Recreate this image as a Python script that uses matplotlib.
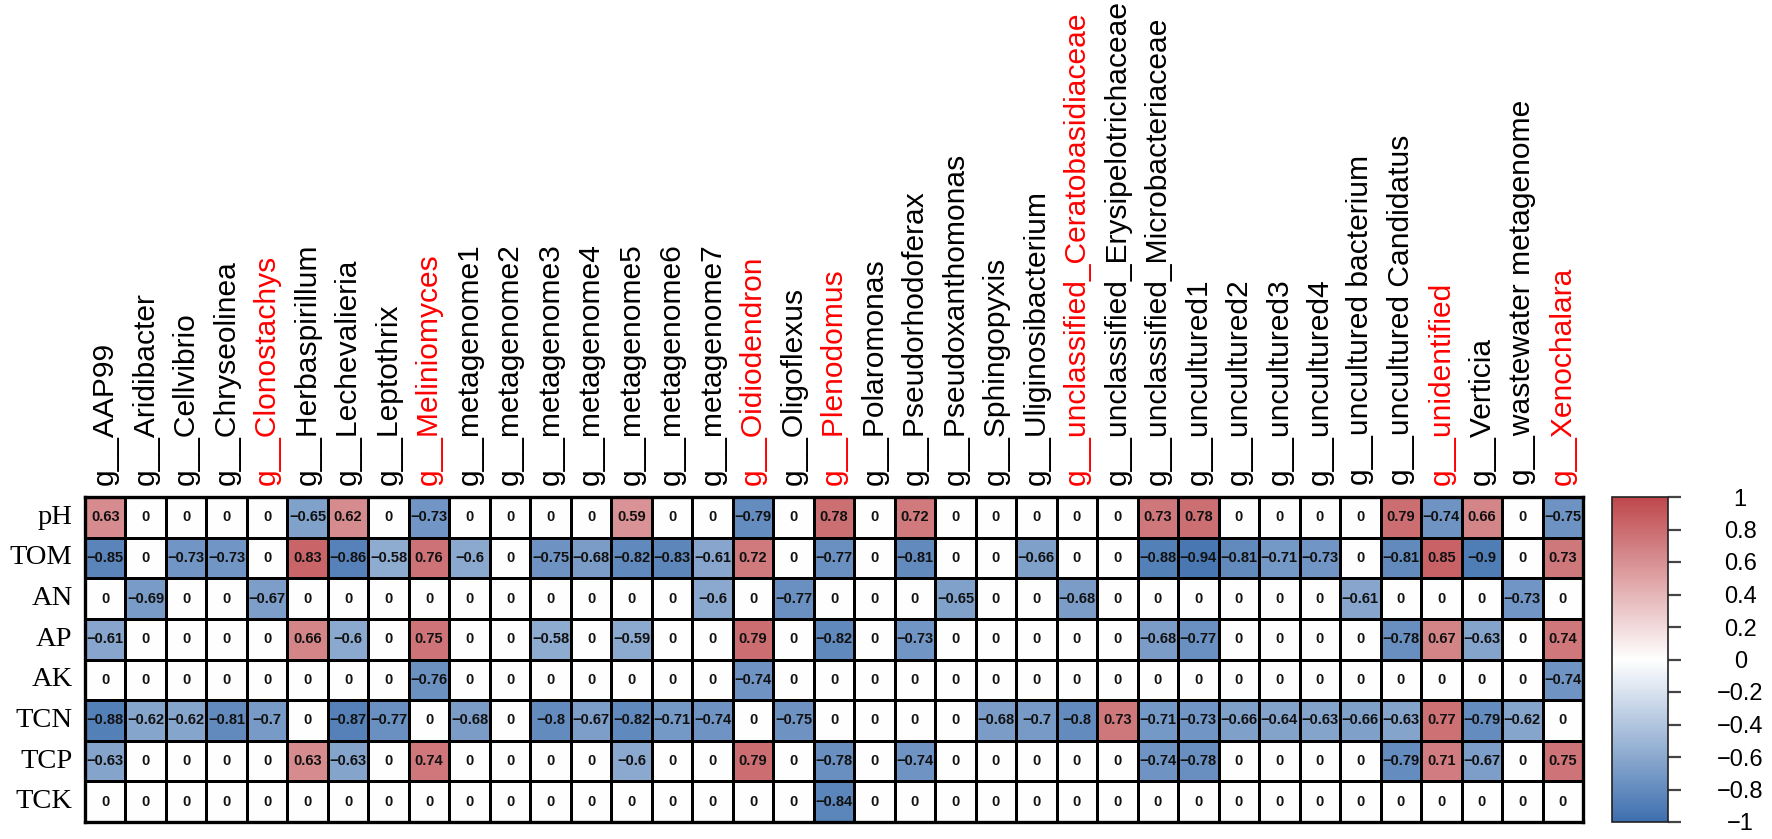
import matplotlib
matplotlib.use("Agg")
import matplotlib.pyplot as plt
import numpy as np
from matplotlib.colors import LinearSegmentedColormap, Normalize
from matplotlib.cm import ScalarMappable

genera = [
    "g__AAP99", "g__Aridibacter", "g__Cellvibrio", "g__Chryseolinea",
    "g__Clonostachys", "g__Herbaspirillum", "g__Lechevalieria", "g__Leptothrix",
    "g__Meliniomyces", "g__metagenome1", "g__metagenome2", "g__metagenome3",
    "g__metagenome4", "g__metagenome5", "g__metagenome6", "g__metagenome7",
    "g__Oidiodendron", "g__Oligoflexus", "g__Plenodomus", "g__Polaromonas",
    "g__Pseudorhodoferax", "g__Pseudoxanthomonas", "g__Sphingopyxis",
    "g__Uliginosibacterium", "g__unclassified_Ceratobasidiaceae",
    "g__unclassified_Erysipelotrichaceae", "g__unclassified_Microbacteriaceae",
    "g__uncultured1", "g__uncultured2", "g__uncultured3", "g__uncultured4",
    "g__uncultured bacterium", "g__uncultured Candidatus", "g__unidentified",
    "g__Verticia", "g__wastewater metagenome", "g__Xenochalara",
]
# fungal genera highlighted in red
red_genera = {"g__Clonostachys", "g__Meliniomyces", "g__Oidiodendron",
              "g__Plenodomus", "g__unclassified_Ceratobasidiaceae",
              "g__unidentified", "g__Xenochalara"}

factors = ["pH", "TOM", "AN", "AP", "AK", "TCN", "TCP", "TCK"]

r_pH = [0.63, 0, 0, 0, 0, -0.65, 0.62, 0, -0.73, 0, 0, 0, 0, 0.59, 0, 0,
        -0.79, 0, 0.78, 0, 0.72, 0, 0, 0, 0, 0, 0.73, 0.78, 0, 0, 0, 0,
        0.79, -0.74, 0.66, 0, -0.75]
r_TOM = [-0.85, 0, -0.73, -0.73, 0, 0.83, -0.86, -0.58, 0.76, -0.6, 0, -0.75,
         -0.68, -0.82, -0.83, -0.61, 0.72, 0, -0.77, 0, -0.81, 0, 0, -0.66,
         0, 0, -0.88, -0.94, -0.81, -0.71, -0.73, 0, -0.81, 0.85, -0.9, 0, 0.73]
r_AN = [0, -0.69, 0, 0, -0.67, 0, 0, 0, 0, 0, 0, 0, 0, 0, 0, -0.6,
        0, -0.77, 0, 0, 0, -0.65, 0, 0, -0.68, 0, 0, 0, 0, 0, 0, -0.61,
        0, 0, 0, -0.73, 0]
r_AP = [-0.61, 0, 0, 0, 0, 0.66, -0.6, 0, 0.75, 0, 0, -0.58, 0, -0.59, 0, 0,
        0.79, 0, -0.82, 0, -0.73, 0, 0, 0, 0, 0, -0.68, -0.77, 0, 0, 0, 0,
        -0.78, 0.67, -0.63, 0, 0.74]
r_AK = [0, 0, 0, 0, 0, 0, 0, 0, -0.76, 0, 0, 0, 0, 0, 0, 0,
        -0.74, 0, 0, 0, 0, 0, 0, 0, 0, 0, 0, 0, 0, 0, 0, 0,
        0, 0, 0, 0, -0.74]
r_TCN = [-0.88, -0.62, -0.62, -0.81, -0.7, 0, -0.87, -0.77, 0, -0.68, 0, -0.8,
         -0.67, -0.82, -0.71, -0.74, 0, -0.75, 0, 0, 0, 0, -0.68, -0.7, -0.8,
         0.73, -0.71, -0.73, -0.66, -0.64, -0.63, -0.66, -0.63, 0.77, -0.79,
         -0.62, 0]
r_TCP = [-0.63, 0, 0, 0, 0, 0.63, -0.63, 0, 0.74, 0, 0, 0, 0, -0.6, 0, 0,
         0.79, 0, -0.78, 0, -0.74, 0, 0, 0, 0, 0, -0.74, -0.78, 0, 0, 0, 0,
         -0.79, 0.71, -0.67, 0, 0.75]
r_TCK = [0, 0, 0, 0, 0, 0, 0, 0, 0, 0, 0, 0, 0, 0, 0, 0,
         0, 0, -0.84, 0, 0, 0, 0, 0, 0, 0, 0, 0, 0, 0, 0, 0,
         0, 0, 0, 0, 0]

cbar_ticks = [-1, -0.8, -0.6, -0.4, -0.2, 0, 0.2, 0.4, 0.6, 0.8, 1]

mat = np.array([r_pH, r_TOM, r_AN, r_AP, r_AK, r_TCN, r_TCP, r_TCK])
n_rows, n_cols = mat.shape

cmap = LinearSegmentedColormap.from_list(
    "corr", ["#3D6FAE", "#FFFFFF", "#BE474C"], N=256)
norm = Normalize(-1, 1)

SANS = "Liberation Sans"
SERIF = "Liberation Serif"

fig = plt.figure(figsize=(17.72, 8.39), dpi=100)
fig.patch.set_facecolor("white")

ax = fig.add_axes([85 / 1772, 1 - 822 / 839, 1498 / 1772, 325 / 839])
ax.pcolormesh(np.arange(n_cols + 1), np.arange(n_rows + 1), mat,
              cmap=cmap, norm=norm, edgecolors="black", linewidth=1.8)
ax.set_xlim(0, n_cols)
ax.set_ylim(n_rows, 0)
for s in ax.spines.values():
    s.set_linewidth(2.4)
    s.set_color("black")

for i in range(n_rows):
    for j in range(n_cols):
        v = mat[i, j]
        lab = f"{v:g}".replace("-", "\u2212")
        ax.text(j + 0.5, i + 0.5, lab, ha="center", va="center",
                fontsize=10.5, fontweight="bold", family=SANS, color="#111111")

ax.set_xticks([])
ax.set_yticks([])

# column labels above the grid, rotated
for j, g in enumerate(genera):
    ax.annotate(g, (j + 0.5, 0), xytext=(0, 9), textcoords="offset points",
                rotation=90, ha="center", va="bottom", fontsize=21.6,
                family=SANS, color="red" if g in red_genera else "black",
                annotation_clip=False)

# row labels left of the grid
for i, f in enumerate(factors):
    ax.annotate(f, (0, i + 0.5), xytext=(-9, 0), textcoords="offset points",
                ha="right", va="center", fontsize=20.5, family=SERIF,
                color="black", annotation_clip=False)

# colour legend
cax = fig.add_axes([1612 / 1772, 1 - 822 / 839, 56 / 1772, 325 / 839])
cb = fig.colorbar(ScalarMappable(norm=norm, cmap=cmap), cax=cax,
                  ticks=cbar_ticks)
cb.outline.set_linewidth(1.2)
cb.outline.set_edgecolor("#222222")
cb.ax.tick_params(length=9, width=1.6, color="#444444", pad=43,
                  labelsize=17)
cb.ax.set_yticklabels([f"{t:g}".replace("-", "\u2212") for t in cbar_ticks])
for t in cb.ax.get_yticklabels():
    t.set_horizontalalignment("center")
    t.set_family(SANS)

fig.savefig("out.png", dpi=100, facecolor="white")
